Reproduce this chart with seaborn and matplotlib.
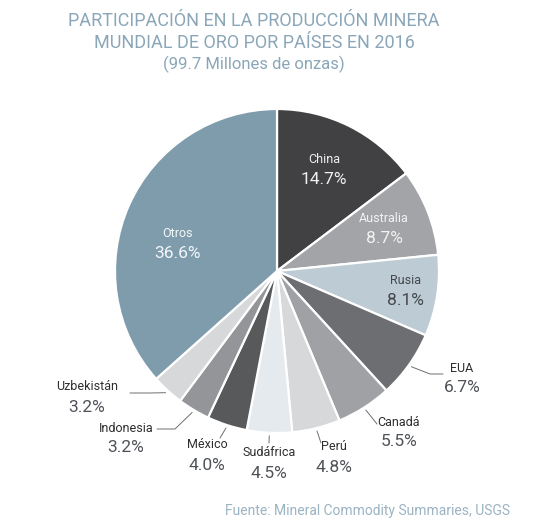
import numpy as np
import matplotlib
matplotlib.use('Agg')
import matplotlib.pyplot as plt
import seaborn as sns

# datos: participacion en la produccion minera mundial de oro, 2016 (%)
paises = ['China', 'Australia', 'Rusia', 'EUA', 'Canadá', 'Perú',
          'Sudáfrica', 'México', 'Indonesia', 'Uzbekistán', 'Otros']
participacion = [14.7, 8.7, 8.1, 6.7, 5.5, 4.8, 4.5, 4.0, 3.2, 3.2, 36.6]
colores = ['#414143', '#a3a4a7', '#bccbd4', '#6d6e71', '#a0a1a4', '#d7d8da',
           '#e4eaee', '#58595b', '#939598', '#d7d8da', '#7f9cac']

titulo = 'PARTICIPACIÓN EN LA PRODUCCIÓN MINERA\nMUNDIAL DE ORO POR PAÍSES EN 2016'
subtitulo = '(99.7 Millones de onzas)'
fuente = 'Fuente: Mineral Commodity Summaries, USGS'

sns.set_theme(style='white')
plt.rcParams['font.family'] = ['Roboto', 'DejaVu Sans']

fig = plt.figure(figsize=(5.54, 5.24), dpi=100)
ax = fig.add_axes([0, 0, 1, 1])

cx, cy, r = 277, 271, 162
wedges, _ = ax.pie(participacion, colors=colores, startangle=-90,
                   counterclock=True, center=(cx, cy), radius=r,
                   wedgeprops=dict(edgecolor='white', linewidth=1.6),
                   frame=True)
ax.set_xlim(0, 554)
ax.set_ylim(524, 0)   # coordenadas en pixeles, y hacia abajo
ax.axis('off')

def punto(ang, rad):
    a = np.deg2rad(ang)
    return cx + rad * np.cos(a), cy + rad * np.sin(a)

# etiquetas dentro del pastel: (fraccion del radio, ajuste de angulo, color)
dentro = {'China': (0.69, -1.5, '#f0f0f0'),
          'Australia': (0.71, 0, '#f2f2f2'),
          'Rusia': (0.80, 0, '#45474d'),
          'Otros': (0.64, -8.5, '#f3f7f9')}

# etiquetas fuera: posicion del nombre y puntos de la linea guia
fuera = {'EUA': ((462, 368), [(430, 374), (443, 374)]),
         'Canadá': ((399, 422), [(377, 424)]),
         'Perú': ((334, 447), [(321, 443)]),
         'Sudáfrica': ((269, 453), [(269, 443)]),
         'México': ((207, 445), [(220, 438)]),
         'Indonesia': ((126, 428), [(175, 429), (157, 429)]),
         'Uzbekistán': ((87, 387), [(150, 393), (130, 393)])}

for w, pais, val in zip(wedges, paises, participacion):
    mid = (w.theta1 + w.theta2) / 2
    pct = f'{val:.1f}%'
    if pais in dentro:
        frac, dang, col = dentro[pais]
        x, y = punto(mid + dang, r * frac)
        ax.text(x, y - 10, pais, ha='center', va='center', fontsize=9,
                color=col)
        ax.text(x, y + 10, pct, ha='center', va='center', fontsize=12.5,
                color=col)
    else:
        (x, y), guia = fuera[pais]
        x0, y0 = punto(mid, r + 3)
        xs = [x0] + [p[0] for p in guia]
        ys = [y0] + [p[1] for p in guia]
        ax.plot(xs, ys, color='#6d6e71', lw=0.7)
        ax.text(x, y, pais, ha='center', va='center', fontsize=9,
                color='#2e2e30')
        ax.text(x, y + 20, pct, ha='center', va='center', fontsize=12.5,
                color='#4f5258')

ax.text(254, 32, titulo, ha='center', va='center', fontsize=13,
        color='#8aa6b8', linespacing=1.25)
ax.text(254, 64, subtitulo, ha='center', va='center', fontsize=12,
        color='#8aa6b8')
ax.text(510, 511, fuente, ha='right', va='center', fontsize=10,
        color='#9bb3c2')

fig.savefig('out.png', dpi=100)
